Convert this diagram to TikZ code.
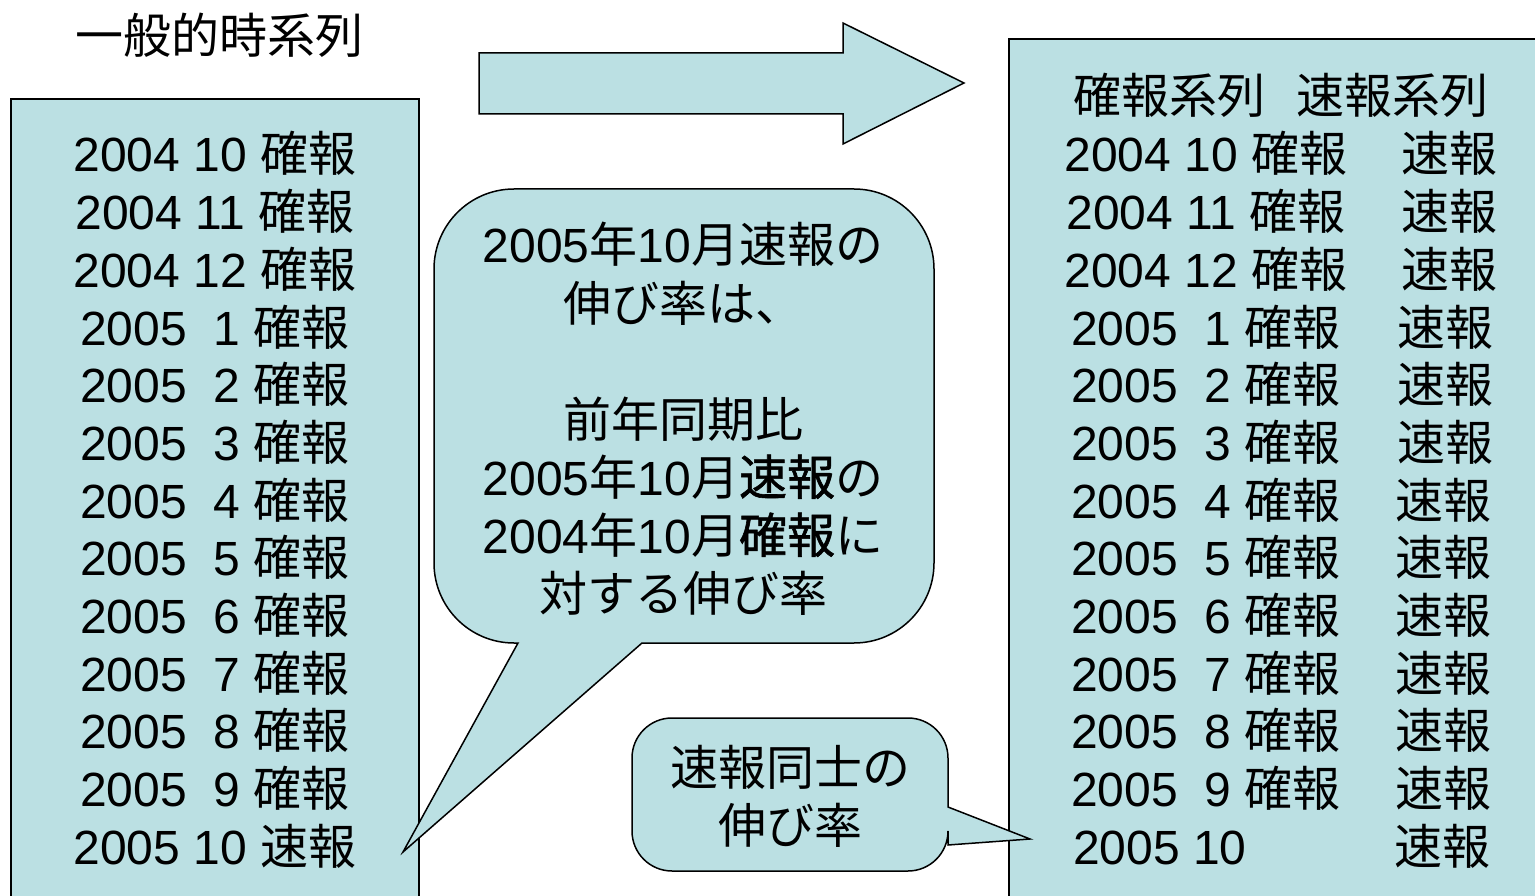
\documentclass[tikz,border=0pt]{standalone}
\usepackage{fontspec}
\setmainfont{Liberation Sans}
\newfontfamily\jp{Noto Sans CJK JP}
\newfontfamily\jpb[FakeBold=1.2]{Noto Sans CJK JP}
\definecolor{boxfill}{HTML}{BBE0E3}
\newcommand\kakuho{{\jp 確報}}
\newcommand\sokuho{{\jp 速報}}
\begin{document}
\begin{tikzpicture}[x=1pt,y=-1pt,
  txt/.style={inner sep=0pt, anchor=base, font=\fontsize{48}{58}\selectfont},
  panel/.style={draw=black, line width=1.5pt, fill=boxfill, line join=miter}]
\clip (0,0) rectangle (1535,896);
\fill[white] (0,0) rectangle (1535,896);

% boxes
\draw[panel] (11,99) rectangle (419,920);
\draw[panel] (1009,39) rectangle (1560,920);
% big arrow
\draw[panel] (479,53) -- (843,53) -- (843,23) -- (964,83) -- (843,144) -- (843,114) -- (479,114) -- cycle;

% big callout
\draw[panel] (518,643) -- (403,852) -- (642,643) -- (854,643)
  arc[start angle=90, end angle=0, radius=80] -- (934,269)
  arc[start angle=0, end angle=-90, radius=80] -- (514,189)
  arc[start angle=-90, end angle=-180, radius=80] -- (434,563)
  arc[start angle=180, end angle=90, radius=80] -- cycle;

% small callout
\draw[panel] (948,845) -- (948,831)
  arc[start angle=0, end angle=90, radius=40] -- (672,871)
  arc[start angle=90, end angle=180, radius=40] -- (632,758)
  arc[start angle=180, end angle=270, radius=40] -- (908,718)
  arc[start angle=270, end angle=360, radius=40] -- (948,807) -- (1030,839) -- cycle;

% title
\node[txt] (title) at (219,54) {\jp 一般的時系列};

% left column
\foreach \m [count=\i from 0] in {2004 10 \kakuho, 2004 11 \kakuho, 2004 12 \kakuho,
  2005~~1 \kakuho, 2005~~2 \kakuho, 2005~~3 \kakuho, 2005~~4 \kakuho, 2005~~5 \kakuho,
  2005~~6 \kakuho, 2005~~7 \kakuho, 2005~~8 \kakuho, 2005~~9 \kakuho, 2005 10 \sokuho}
  \node[txt] (L\i) at (215,{172+57.67*\i}) {\m};

% right column
\node[txt] (rhead) at (1281,114) {\jp 確報系列\hspace{32pt}速報系列};
\foreach \m/\sx [count=\i from 0] in {2004 10 \kakuho/1449, 2004 11 \kakuho/1449, 2004 12 \kakuho/1449,
  2005~~1 \kakuho/1445, 2005~~2 \kakuho/1445, 2005~~3 \kakuho/1445, 2005~~4 \kakuho/1443,
  2005~~5 \kakuho/1443, 2005~~6 \kakuho/1443, 2005~~7 \kakuho/1443, 2005~~8 \kakuho/1443,
  2005~~9 \kakuho/1443}
  {
  \node[txt] (R\i) at (1206,{172+57.67*\i}) {\m};
  \node[txt] (S\i) at (\sx,{172+57.67*\i}) {\sokuho};
  }
\node[txt, anchor=base west] (R12) at (1073,{172+57.67*12}) {2005 10};
\node[txt] (S12) at (1442,{172+57.67*12}) {\sokuho};

% big callout text
\node[txt] (c1) at (683,263) {2005{\jp 年}10{\jp 月速報の}};
\node[txt] (c2) at (683,321) {\jp 伸び率は、};
\node[txt] (c3) at (683,437) {\jp 前年同期比};
\node[txt] (c4) at (683,495) {2005{\jp 年}10{\jp 月}{\jpb 速報}{\jp の}};
\node[txt] (c5) at (683,553) {2004{\jp 年}10{\jp 月}{\jpb 確報}{\jp に}};
\node[txt] (c6) at (683,611) {\jp 対する伸び率};

% small callout text
\node[txt] (d1) at (790,785) {\jp 速報同士の};
\node[txt] (d2) at (790,843) {\jp 伸び率};
\end{tikzpicture}
\end{document}
